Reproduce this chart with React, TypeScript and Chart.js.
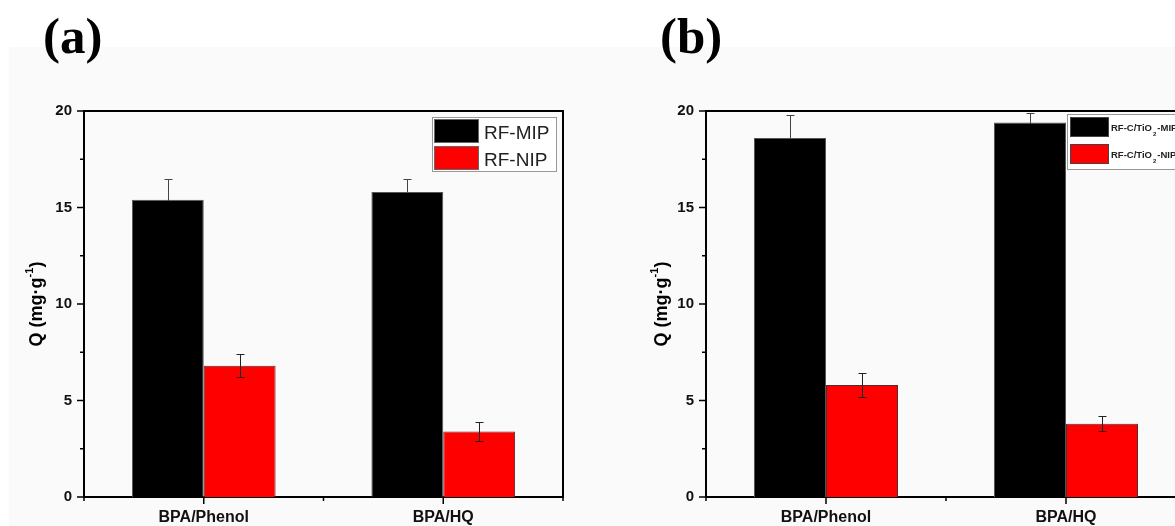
import React, { useEffect, useRef } from 'react';
import { Chart, registerables } from 'chart.js';
Chart.register(...registerables);

const categories = ['BPA/Phenol', 'BPA/HQ'];
const yMin = 0;
const yMax = 20;
const yStep = 5;
const minorTicks = [2.5, 7.5, 12.5, 17.5];

const mipA = [15.4, 15.8];
const mipAErr = [1.1, 0.7];
const nipA = [6.8, 3.4];
const nipAErr = [0.6, 0.5];

const mipB = [18.6, 19.4];
const mipBErr = [1.2, 0.5];
const nipB = [5.8, 3.8];
const nipBErr = [0.6, 0.4];

const labelsA = ['RF-MIP', 'RF-NIP'];
const labelsB = [['RF-C/TiO', '2', '-MIP'], ['RF-C/TiO', '2', '-NIP']];

const SANS = 'Arial, "Liberation Sans", sans-serif';
const SERIF = '"Times New Roman", "Liberation Serif", serif';

type PanelCfg = {
  title: string;
  titleX: number;
  yAxisWidth: number;
  padRight: number;
  yTitleX: number;
  legend: 'a' | 'b';
  legendLeft?: number;
};

function drawErrors(chart: any, behind: boolean) {
  const ctx = chart.ctx;
  const ys = chart.scales.y;
  chart.data.datasets.forEach((ds: any, i: number) => {
    if (!!ds.errorBehind !== behind) return;
    const meta = chart.getDatasetMeta(i);
    meta.data.forEach((bar: any, j: number) => {
      const v = ds.data[j];
      const e = ds.errors[j];
      const x = Math.round(bar.x) + 0.5;
      const yt = Math.round(ys.getPixelForValue(v + e)) + 0.5;
      const yb = Math.round(ys.getPixelForValue(v - e)) + 0.5;
      ctx.save();
      ctx.strokeStyle = ds.errorColor;
      ctx.lineWidth = 1;
      ctx.beginPath();
      ctx.moveTo(x, yt);
      ctx.lineTo(x, yb);
      ctx.moveTo(x - 4, yt);
      ctx.lineTo(x + 4, yt);
      ctx.moveTo(x - 4, yb);
      ctx.lineTo(x + 4, yb);
      ctx.stroke();
      ctx.restore();
    });
  });
}

function makePlugin(cfg: PanelCfg) {
  return {
    id: 'customDraw',
    beforeDatasetsDraw(chart: any) {
      drawErrors(chart, true);
    },
    afterDatasetsDraw(chart: any) {
      drawErrors(chart, false);
    },
    afterDraw(chart: any) {
      const ctx = chart.ctx;
      const a = chart.chartArea;
      const ys = chart.scales.y;
      const xs = chart.scales.x;
      ctx.save();
      // frame
      ctx.strokeStyle = '#000';
      ctx.lineWidth = 2;
      ctx.beginPath();
      ctx.moveTo(a.left, a.top);
      ctx.lineTo(a.right, a.top);
      ctx.lineTo(a.right, a.bottom);
      ctx.stroke();
      // y ticks
      ctx.lineWidth = 1.5;
      ctx.beginPath();
      for (let v = yMin; v <= yMax; v += yStep) {
        const y = ys.getPixelForValue(v);
        ctx.moveTo(a.left - 7, y);
        ctx.lineTo(a.left, y);
      }
      minorTicks.forEach((v) => {
        const y = ys.getPixelForValue(v);
        ctx.moveTo(a.left - 4, y);
        ctx.lineTo(a.left, y);
      });
      // x ticks
      categories.forEach((_, j) => {
        const x = xs.getPixelForValue(j);
        ctx.moveTo(x, a.bottom);
        ctx.lineTo(x, a.bottom + 7);
      });
      for (let j = 0; j <= categories.length; j++) {
        const x = xs.getPixelForValue(j - 0.5);
        ctx.moveTo(x, a.bottom);
        ctx.lineTo(x, a.bottom + 4);
      }
      ctx.stroke();

      // y axis title
      ctx.save();
      ctx.translate(cfg.yTitleX, (a.top + a.bottom) / 2);
      ctx.rotate(-Math.PI / 2);
      ctx.fillStyle = '#000';
      ctx.textBaseline = 'alphabetic';
      const main = 'Q (mg·g';
      const sup = '-1';
      const close = ')';
      ctx.font = `bold 18px ${SANS}`;
      const w1 = ctx.measureText(main).width;
      const w3 = ctx.measureText(close).width;
      ctx.font = `bold 11px ${SANS}`;
      const w2 = ctx.measureText(sup).width;
      const total = w1 + w2 + w3;
      const x0 = -total / 2;
      ctx.font = `bold 18px ${SANS}`;
      ctx.fillText(main, x0, 0);
      ctx.font = `bold 11px ${SANS}`;
      ctx.fillText(sup, x0 + w1, -9);
      ctx.font = `bold 18px ${SANS}`;
      ctx.fillText(close, x0 + w1 + w2, 0);
      ctx.restore();

      // panel title
      ctx.fillStyle = '#000';
      ctx.font = `bold 51px ${SERIF}`;
      ctx.textBaseline = 'alphabetic';
      ctx.fillText(cfg.title, cfg.titleX, 53);

      // legend
      const ds = chart.data.datasets;
      if (cfg.legend === 'a') {
        const bx = a.right - 131, by = a.top + 6, bw = 124, bh = 54;
        ctx.fillStyle = '#ffffff';
        ctx.fillRect(bx, by, bw, bh);
        ctx.strokeStyle = '#999';
        ctx.lineWidth = 1;
        ctx.strokeRect(bx + 0.5, by + 0.5, bw, bh);
        const rows = [by + 2, by + 29];
        rows.forEach((ry, i) => {
          ctx.fillStyle = ds[i].backgroundColor;
          ctx.fillRect(bx + 2, ry, 44, 23);
          ctx.strokeStyle = '#666';
          ctx.strokeRect(bx + 2.5, ry + 0.5, 44, 23);
          ctx.fillStyle = '#222';
          ctx.font = `19px ${SANS}`;
          ctx.fillText(labelsA[i], bx + 52, ry + 20);
        });
      } else {
        const bx = cfg.legendLeft as number, by = a.top + 3, bw = a.right - 7 - bx, bh = 55;
        ctx.fillStyle = '#ffffff';
        ctx.fillRect(bx, by, bw, bh);
        ctx.strokeStyle = '#999';
        ctx.lineWidth = 1;
        ctx.strokeRect(bx + 0.5, by + 0.5, bw, bh);
        const rows = [by + 3, by + 30];
        rows.forEach((ry, i) => {
          ctx.fillStyle = ds[i].backgroundColor;
          ctx.fillRect(bx + 3, ry, 38, 19);
          ctx.strokeStyle = '#444';
          ctx.strokeRect(bx + 3.5, ry + 0.5, 38, 19);
          ctx.fillStyle = '#222';
          const [p1, p2, p3] = labelsB[i];
          let tx = bx + 44;
          const ty = ry + 14;
          ctx.font = `bold 9.5px ${SANS}`;
          ctx.fillText(p1, tx, ty);
          tx += ctx.measureText(p1).width;
          ctx.font = `bold 6px ${SANS}`;
          ctx.fillText(p2, tx + 1, ty + 5);
          tx += ctx.measureText(p2).width + 2;
          ctx.font = `bold 9.5px ${SANS}`;
          ctx.fillText(p3, tx, ty);
        });
      }
      ctx.restore();
    },
  };
}

function Panel(props: {
  cfg: PanelCfg;
  mip: number[];
  mipErr: number[];
  nip: number[];
  nipErr: number[];
  width: number;
  left: number;
}) {
  const ref = useRef<HTMLCanvasElement | null>(null);
  const { cfg, mip, mipErr, nip, nipErr } = props;
  useEffect(() => {
    if (!ref.current) return;
    const chart = new Chart(ref.current, {
      type: 'bar',
      data: {
        labels: categories,
        datasets: [
          {
            label: 'MIP',
            data: mip,
            errors: mipErr,
            errorColor: '#444',
            errorBehind: true,
            backgroundColor: '#000000',
            borderColor: '#555',
            borderWidth: 1,
          } as any,
          {
            label: 'NIP',
            data: nip,
            errors: nipErr,
            errorColor: '#222',
            errorBehind: false,
            backgroundColor: '#ff0000',
            borderColor: '#5a2a2a',
            borderWidth: 1,
          } as any,
        ],
      },
      options: {
        animation: false,
        responsive: false,
        maintainAspectRatio: false,
        layout: { padding: { top: 111, right: cfg.padRight, left: 0, bottom: 0 } },
        plugins: {
          legend: { display: false },
          tooltip: { enabled: false },
        },
        datasets: {
          bar: { categoryPercentage: 0.6, barPercentage: 1.0 },
        },
        scales: {
          x: {
            offset: true,
            grid: { display: false },
            border: { display: true, color: '#000', width: 2 },
            ticks: {
              color: '#111',
              font: { family: SANS, size: 16, weight: 'bold' },
              padding: 3,
              maxRotation: 0,
            },
            afterFit: (s: any) => {
              s.height = 29;
            },
          },
          y: {
            min: yMin,
            max: yMax,
            grid: { display: false },
            border: { display: true, color: '#000', width: 2 },
            ticks: {
              stepSize: yStep,
              color: '#111',
              font: { family: SANS, size: 15, weight: 'bold' },
              padding: 4,
            },
            afterFit: (s: any) => {
              s.width = cfg.yAxisWidth;
            },
          },
        },
      } as any,
      plugins: [makePlugin(cfg) as any],
    });
    return () => chart.destroy();
  }, []);
  return (
    <canvas
      ref={ref}
      width={props.width}
      height={526}
      style={{ position: 'absolute', left: props.left, top: 0, width: props.width, height: 526, display: 'block' }}
    />
  );
}

export default function App() {
  const cfgA: PanelCfg = { title: '(a)', titleX: 43, yAxisWidth: 84, padRight: 37, yTitleX: 42, legend: 'a' };
  const cfgB: PanelCfg = { title: '(b)', titleX: 60, yAxisWidth: 106, padRight: 54, yTitleX: 67, legend: 'b', legendLeft: 467 };
  return (
    <div style={{ position: 'fixed', left: 0, top: 0, width: 1175, height: 526, overflow: 'hidden', background: '#ffffff' }}>
      <div style={{ position: 'absolute', left: 9, top: 47, right: 0, bottom: 0, background: '#fafafa' }} />
      <Panel cfg={cfgA} mip={mipA} mipErr={mipAErr} nip={nipA} nipErr={nipAErr} width={600} left={0} />
      <Panel cfg={cfgB} mip={mipB} mipErr={mipBErr} nip={nipB} nipErr={nipBErr} width={640} left={600} />
    </div>
  );
}
